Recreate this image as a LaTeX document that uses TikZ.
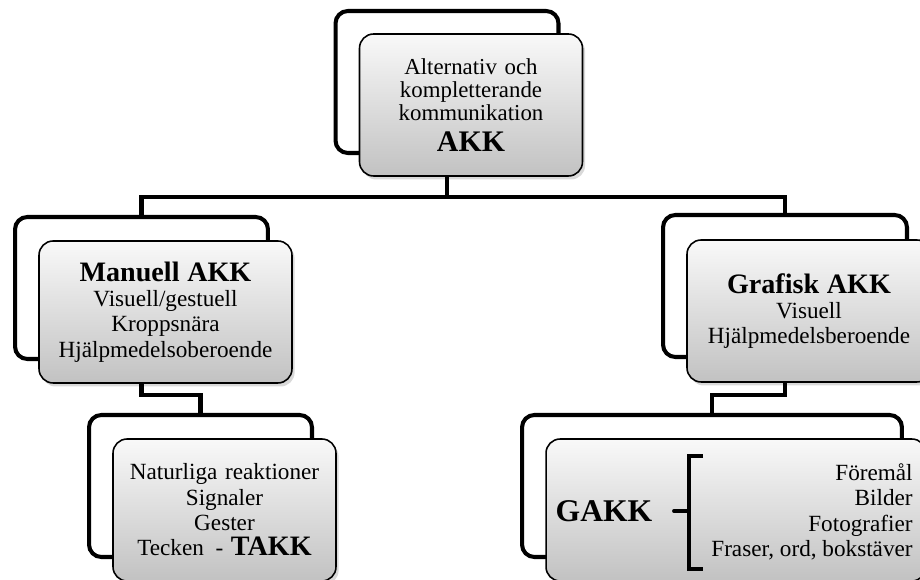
\documentclass[tikz,border=0pt]{standalone}
\usepackage{fontspec}
\setmainfont{Liberation Serif}
\usepackage{tikz}
\usetikzlibrary{shadows}

\newcommand{\normaltext}{\fontsize{13.2}{14.4}\selectfont}
\newcommand{\headtext}{\fontsize{16}{17}\selectfont\bfseries}

\tikzset{
  backframe/.style={draw, line width=2.3pt, rounded corners=7pt, fill=white,
    inner sep=0pt, outer sep=0pt, minimum height=2.84cm},
  frontbox/.style={draw, line width=0.9pt, rounded corners=8pt,
    top color=gray!5, bottom color=gray!48, inner sep=0pt, outer sep=0pt,
    minimum height=2.84cm, align=center, font=\normaltext,
    drop shadow={shadow xshift=1.5pt, shadow yshift=-2pt, opacity=0.3}},
  conn/.style={line width=2.4pt},
}

\begin{document}
\begin{tikzpicture}[x=0.02cm, y=-0.02cm]
        \useasboundingbox (0,0) rectangle (920,580);

        % AKK (top)
        \node[backframe, minimum width=4.46cm] (akkBack) at (447,82) {};
        \node[frontbox, minimum width=4.46cm, text width=4.2cm] (akk) at (471,105)
            {\fontsize{13}{13}\selectfont Alternativ och\\ kompletterande\\ kommunikation\\[3pt] {\fontsize{17}{17}\selectfont\bfseries AKK}};

        % Manuell AKK
        \node[backframe, minimum width=5.06cm] (manBack) at (141.5,288) {};
        \node[frontbox, minimum width=5.06cm, text width=4.9cm] (man) at (165.5,312)
            {{\headtext Manuell AKK}\\ Visuell/gestuell\\ Kroppsnära\\ Hjälpmedelsoberoende};

        % Grafisk AKK
        \node[backframe, minimum width=4.88cm] (grafBack) at (785,286) {};
        \node[frontbox, minimum width=4.88cm, text width=4.7cm] (graf) at (809,311)
            {{\headtext Grafisk AKK}\\ Visuell\\ Hjälpmedelsberoende};

        % Naturliga reaktioner / TAKK
        \node[backframe, minimum width=4.46cm] (takkBack) at (200.5,486) {};
        \node[frontbox, minimum width=4.46cm, text width=4.3cm] (takk) at (224.5,510)
            {Naturliga reaktioner\\ Signaler\\ Gester\\ Tecken \,- {\headtext TAKK}};

        % GAKK
        \node[backframe, minimum width=7.6cm] (gakkBack) at (712,486) {};
        \node[frontbox, minimum width=7.6cm] (gakk) at (736,510) {};
        \node[font=\fontsize{18}{19}\selectfont\bfseries, inner sep=0pt] (gakkName) at (604,511) {GAKK};
        \node[font=\normaltext, align=right, anchor=east, inner sep=0pt] (gakkList) at (913,512)
            {Föremål\\ Bilder\\ Fotografier\\ Fraser, ord, bokstäver};
        \draw[line width=2.2pt] (703,456) -- (689,456) -- (689,569) -- (703,569);
        \draw[line width=2.2pt, line cap=round] (674,511) -- (689,511);

        % Connectors
        \coordinate (split) at (akkBack.center |- 0,197);
        \coordinate (manSplit) at (manBack.center |- 0,395);
        \coordinate (grafSplit) at (grafBack.center |- 0,395);
        \draw[conn] (akk.south -| akkBack.center) -- (split);
        \draw[conn] (split) -| (manBack.north);
        \draw[conn] (split) -| (grafBack.north);
        \draw[conn] (man.south -| manBack.center) -- (manSplit) -| (takkBack.north);
        \draw[conn] (graf.south -| grafBack.center) -- (grafSplit) -| (gakkBack.north);
    \end{tikzpicture}
\end{document}
